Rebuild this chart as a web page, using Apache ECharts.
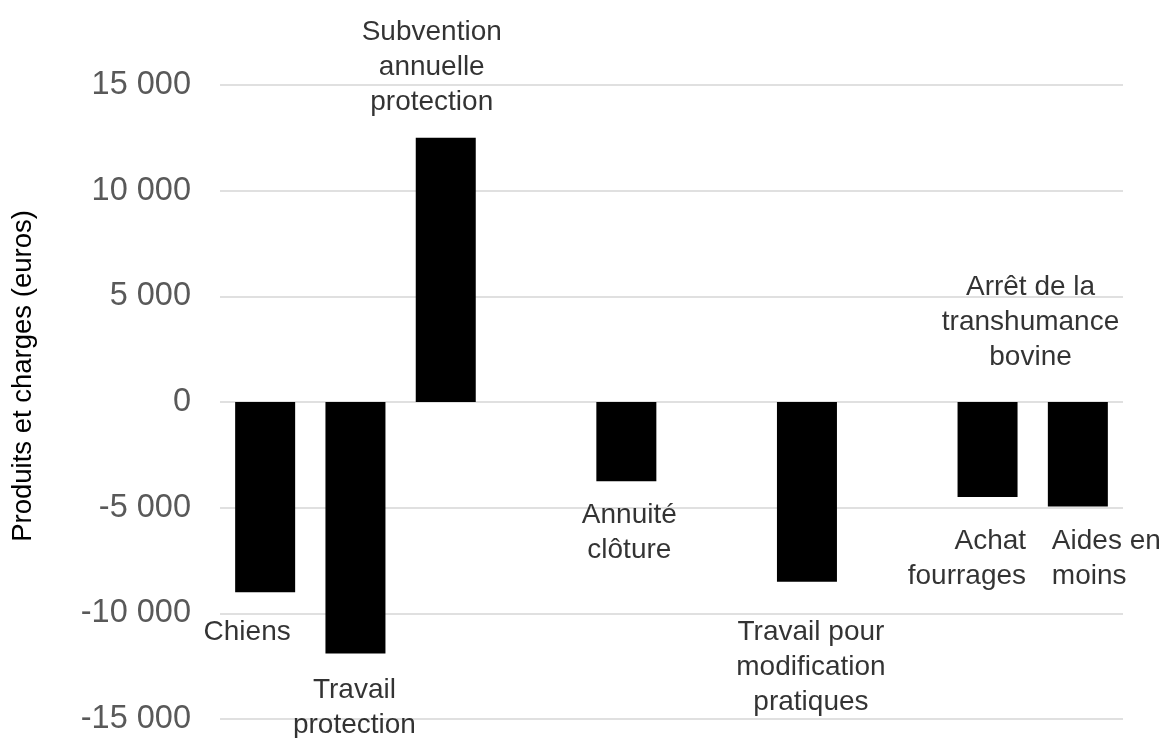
<!DOCTYPE html>
<html>
<head>
<meta charset="utf-8">
<script src="https://cdn.jsdelivr.net/npm/echarts@6/dist/echarts.min.js"></script>
<style>
  html, body { margin: 0; padding: 0; background: #ffffff; }
  #chart { width: 1164px; height: 738px; }
</style>
</head>
<body>
<div id="chart"></div>
<script>
// ---- Data ----
const categories = ['Chiens', 'Travail protection', 'Subvention annuelle protection', '', 'Annuité clôture', '', 'Travail pour modification pratiques', '', 'Achat fourrages', 'Aides en moins'];
const values = [-9000, -11900, 12500, null, -3750, null, -8500, null, -4500, -4950];
const labelTexts = ['Chiens', 'Travail\nprotection', 'Subvention\nannuelle\nprotection', '', 'Annuité\nclôture', '', 'Travail pour\nmodification\npratiques', '', 'Achat\nfourrages', 'Aides en\nmoins'];
const groupLabelText = 'Arrêt de la\ntranshumance\nbovine';
const groupLabelCategory = 8;
const yMin = -15000;
const yMax = 15000;
const yInterval = 5000;
const yAxisTitle = 'Produits et charges (euros)';

// ---- Label placement (layout only) ----
const labelLayout = [
  { dist: 22.5, dx: -18, align: 'center' },
  { dist: 19.5, dx: -1, align: 'center' },
  { dist: 18.5, dx: -14, align: 'center' },
  null,
  { dist: 16.5, dx: 3, align: 'center' },
  null,
  { dist: 33, dx: 4, align: 'center' },
  null,
  { dist: 27, dx: 38.5, align: 'right' },
  { dist: 17, dx: -26, align: 'left' }
];
const groupLayout = { dist: 27.5, dx: 43 };

const FONT = "'Liberation Sans', Arial, Helvetica, sans-serif";
const LABEL_STYLE = { color: '#000000', fontSize: 28, lineHeight: 35, fontFamily: FONT, textBorderWidth: 0 };

const labelPoints = values.map((v, i) => {
  if (v === null) return '-';
  const l = labelLayout[i];
  return {
    value: [i, v],
    label: Object.assign({
      show: true,
      formatter: labelTexts[i],
      position: v >= 0 ? 'top' : 'bottom',
      distance: l.dist,
      offset: [l.dx, 0],
      align: l.align
    }, LABEL_STYLE)
  };
});
labelPoints.push({
  value: [groupLabelCategory, 0],
  label: Object.assign({
    show: true,
    formatter: groupLabelText,
    position: 'top',
    distance: groupLayout.dist,
    offset: [groupLayout.dx, 0],
    align: 'center'
  }, LABEL_STYLE)
});

const chart = echarts.init(document.getElementById('chart'), null, { renderer: 'canvas' });
chart.setOption({
  animation: false,
  backgroundColor: '#ffffff',
  grid: { left: 220, right: 41, top: 85, bottom: 19, containLabel: false },
  xAxis: {
    type: 'category',
    data: categories,
    axisLine: { show: false },
    axisTick: { show: false },
    axisLabel: { show: false },
    splitLine: { show: false }
  },
  yAxis: {
    type: 'value',
    min: yMin,
    max: yMax,
    interval: yInterval,
    axisLine: { show: false },
    axisTick: { show: false },
    axisLabel: {
      margin: 29,
      color: '#595959',
      fontSize: 32.5,
      fontFamily: FONT,
      formatter: (v) => {
        const s = String(Math.abs(v)).replace(/\B(?=(\d{3})+(?!\d))/g, ' ');
        return (v < 0 ? '-' : '') + s;
      }
    },
    splitLine: { show: true, lineStyle: { color: '#e0e0e0', width: 2 } }
  },
  graphic: [{
    type: 'text',
    x: 23,
    y: 376,
    rotation: Math.PI / 2,
    style: {
      text: yAxisTitle,
      fontSize: 27.5,
      fontFamily: FONT,
      fill: '#000000',
      textAlign: 'center',
      textVerticalAlign: 'middle'
    }
  }],
  series: [
    {
      type: 'bar',
      data: values.map(v => v === null ? '-' : v),
      barWidth: 60,
      itemStyle: { color: '#000000' },
      silent: true
    },
    {
      type: 'scatter',
      data: labelPoints,
      symbolSize: 0,
      silent: true,
      z: 5,
      label: LABEL_STYLE
    }
  ]
});
</script>
</body>
</html>
